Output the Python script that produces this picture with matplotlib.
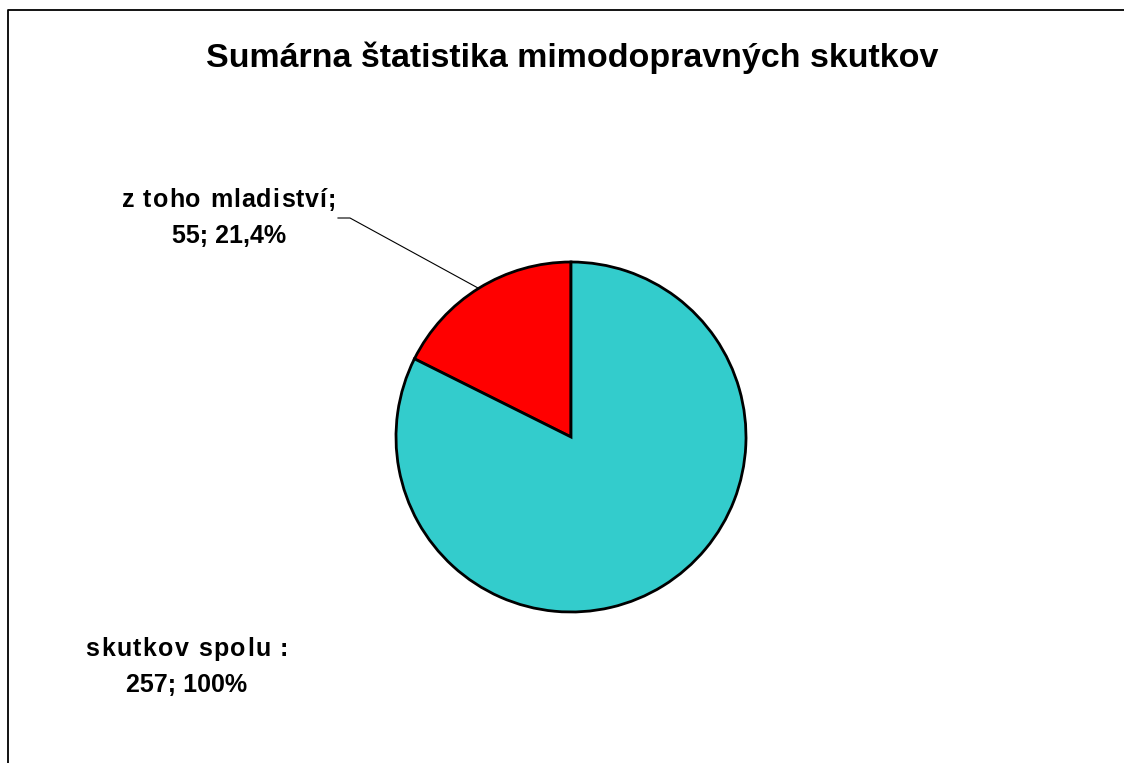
import matplotlib
matplotlib.use("Agg")
import matplotlib.pyplot as plt
from matplotlib.lines import Line2D
from matplotlib.font_manager import FontProperties

# data
categories = ["z toho mladiství;", "skutkov spolu :"]
values = [55, 257]
percents = ["21,4%", "100%"]
colors = ["#FF0000", "#33CCCC"]

W, H = 1124, 763
plt.rcParams['font.family'] = ['Liberation Sans', 'DejaVu Sans']

fig = plt.figure(figsize=(W / 100, H / 100), dpi=100)
fig.patch.set_facecolor("white")

# pixel-space axes (y measured from the top, converted below)
ax = fig.add_axes([0, 0, 1, 1])

def py(y):
    return H - y

ax.pie(values, colors=colors, startangle=90, counterclock=True,
       center=(571, py(437)), radius=175,
       wedgeprops=dict(edgecolor="black", linewidth=2.0))
ax.set_xlim(0, W)
ax.set_ylim(0, H)
ax.set_aspect("equal")
ax.axis("off")

# outer frame (only left and top visible in the crop)
ax.add_line(Line2D([8, 8, W], [0, py(9.5), py(9.5)], color="black", lw=1.3))

ax.text(572, py(67), "Sumárna štatistika mimodopravných skutkov",
        ha="center", va="baseline", fontsize=24.5, fontweight="bold")

renderer = fig.canvas.get_renderer()
prop = FontProperties(family=['Liberation Sans', 'DejaVu Sans'],
                      weight="bold", size=18)


def text_w(s):
    w, _, _ = renderer.get_text_width_height_descent(s + "|", prop, ismath=False)
    w0, _, _ = renderer.get_text_width_height_descent("|", prop, ismath=False)
    return w - w0


def tracked_text(cx, y, s, track):
    # Excel-like spaced lettering, centred on cx
    total = text_w(s) + track * (len(s) - 1)
    x0 = cx - total / 2
    for i, ch in enumerate(s):
        x = x0 + text_w(s[:i]) + track * i
        ax.text(x, y, ch, ha="left", va="baseline", fontproperties=prop)


# data labels
label_pos = [(229, 207), (187, 656)]
tracks = [1.1, 1.4]
for cat, v, p, (lx, ly), tr in zip(categories, values, percents, label_pos, tracks):
    tracked_text(lx, py(ly), cat, tr)
    ax.text(lx, py(ly + 36), f"{v}; {p}", ha="center", va="baseline",
            fontproperties=prop)

# leader line for the small slice
ax.add_line(Line2D([338, 350, 478], [py(218), py(218), py(288)],
                   color="black", lw=0.8))

fig.savefig("out.png", dpi=100)
